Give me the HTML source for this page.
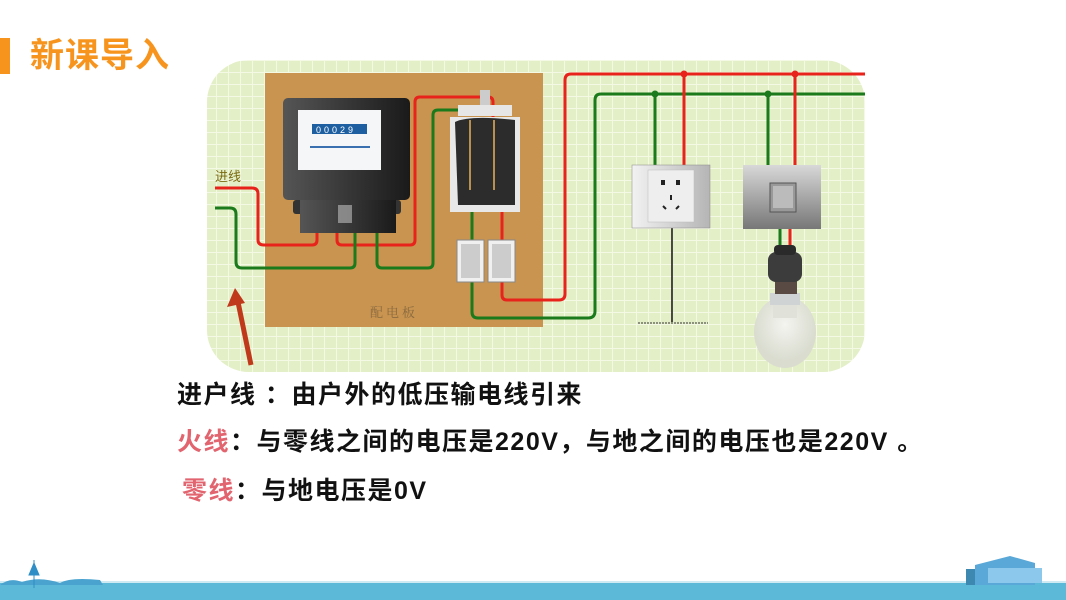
<!DOCTYPE html>
<html><head><meta charset="utf-8"><style>
body{margin:0;width:1066px;height:600px;overflow:hidden;background:#fff;position:relative;font-family:"Liberation Sans","Noto Sans CJK SC",sans-serif}
.t{position:absolute;font-weight:bold;font-size:25px;letter-spacing:1.5px;color:#111;white-space:pre;line-height:30px}
.r{color:#e2646f}
</style></head><body>
<div style="position:absolute;left:0;top:38px;width:10px;height:36px;background:#f7941d"></div>
<div style="position:absolute;left:30px;top:34px;font-size:34px;font-weight:bold;color:#f7941d;line-height:44px;letter-spacing:1px">新课导入</div>
<svg width="1066" height="600" style="position:absolute;left:0;top:0">
<defs>
<pattern id="g" width="12" height="12" patternUnits="userSpaceOnUse"><rect width="12" height="12" fill="#e3efc6"/><path d="M0 0H12M0 0V12" stroke="#f4f9e6" stroke-width="2"/></pattern>
<linearGradient id="m" x1="0" x2="1"><stop offset="0" stop-color="#555"/><stop offset="1" stop-color="#1a1a1a"/></linearGradient>
<linearGradient id="s" x1="0" x2="1"><stop offset="0" stop-color="#f2f2f2"/><stop offset="1" stop-color="#b5b5b5"/></linearGradient>
<linearGradient id="sw" x1="0" y1="0" x2="0" y2="1"><stop offset="0" stop-color="#d8d8d8"/><stop offset="1" stop-color="#777"/></linearGradient>
<radialGradient id="b" cx="0.5" cy="0.4"><stop offset="0" stop-color="#f4f4f0"/><stop offset="1" stop-color="#d9dccf"/></radialGradient>
</defs>
<rect x="207" y="60" width="658" height="312" rx="42" fill="url(#g)"/>
<rect x="265" y="73" width="278" height="254" fill="#c9944f"/>
<text x="370" y="317" font-size="13" fill="#8a6a40" font-family="Noto Serif CJK SC,serif" letter-spacing="3">配电板</text>
<text x="215" y="181" font-size="13" fill="#7a6a10" font-family="Noto Sans CJK SC,sans-serif">进线</text>
<g fill="none" stroke-width="3" stroke-linejoin="round">
<path d="M215 188H252Q258 188 258 194V240Q258 245 264 245H312Q317 245 317 240V230" stroke="#e8231c"/>
<path d="M337 230V240Q337 245 342 245H410Q415 245 415 240V102Q415 97 420 97H488Q493 97 493 102V117" stroke="#e8231c"/>
<path d="M215 208H230Q236 208 236 214V262Q236 268 242 268H350Q355 268 355 263V230" stroke="#1b7a1b"/>
<path d="M377 230V263Q377 268 382 268H428Q433 268 433 263V115Q433 110 438 110H458" stroke="#1b7a1b"/>
<path d="M472 212V240M472 282V312Q472 318 478 318H588Q595 318 595 311V100Q595 94 601 94H865" stroke="#1b7a1b"/>
<path d="M502 212V240M502 282V295Q502 300 507 300H559Q565 300 565 294V80Q565 74 571 74H865" stroke="#e8231c"/>
<path d="M655 94V165M768 94V165M780 229V245" stroke="#1b7a1b"/>
<path d="M684 74V165M795 74V165M790 229V245" stroke="#e8231c"/>
<path d="M672 228V322" stroke="#111" stroke-width="1.5"/>
<path d="M638 323H708" stroke="#333" stroke-width="1" stroke-dasharray="2 1"/>
</g>
<circle cx="684" cy="74" r="3.5" fill="#e8231c"/><circle cx="795" cy="74" r="3.5" fill="#e8231c"/>
<circle cx="655" cy="94" r="3.5" fill="#1b7a1b"/><circle cx="768" cy="94" r="3.5" fill="#1b7a1b"/>
<rect x="293" y="200" width="108" height="14" rx="3" fill="#333"/>
<rect x="300" y="200" width="96" height="33" fill="url(#m)"/>
<rect x="283" y="98" width="127" height="102" rx="5" fill="url(#m)"/>
<rect x="298" y="110" width="83" height="60" fill="#f4f6f8"/>
<rect x="312" y="124" width="55" height="10" fill="#1d5fa0"/>
<text x="316" y="133" font-size="9" fill="#fff" font-family="Liberation Sans" letter-spacing="3">00029</text>
<rect x="310" y="146" width="60" height="2" fill="#3a6fb0"/>
<rect x="338" y="205" width="14" height="18" fill="#aaa" opacity=".7"/>
<rect x="480" y="90" width="10" height="16" fill="#ccc"/>
<rect x="458" y="105" width="54" height="11" fill="#e6e6e6"/>
<rect x="450" y="117" width="70" height="95" fill="#e8e8e8"/>
<path d="M455 122Q470 115 515 120V205H458Z" fill="#2c2c2c"/>
<path d="M470 120V190M494 120V190" stroke="#b89050" stroke-width="2"/>
<rect x="457" y="240" width="27" height="42" fill="#f0f0f0" stroke="#888"/><rect x="461" y="244" width="19" height="34" fill="#ccc"/>
<rect x="488" y="240" width="27" height="42" fill="#f0f0f0" stroke="#888"/><rect x="492" y="244" width="19" height="34" fill="#ccc"/>
<rect x="632" y="165" width="78" height="63" fill="url(#s)" stroke="#888" stroke-width=".5"/>
<rect x="648" y="170" width="46" height="52" fill="#eee" stroke="#bbb" stroke-width=".5"/>
<rect x="661" y="180" width="4" height="5" fill="#222"/><rect x="676" y="180" width="4" height="5" fill="#222"/>
<rect x="670" y="195" width="2" height="5" fill="#222"/>
<path d="M663 206l3 3M679 206l-3 3" stroke="#222" stroke-width="2"/>
<rect x="743" y="165" width="78" height="64" fill="url(#sw)"/>
<rect x="770" y="183" width="26" height="29" fill="#999" stroke="#555"/>
<rect x="773" y="186" width="20" height="22" fill="#bbb"/>
<ellipse cx="785" cy="332" rx="31" ry="36" fill="url(#b)"/>
<path d="M773 302Q785 290 797 302V318H773Z" fill="#e0e2da"/>
<rect x="770" y="293" width="30" height="12" fill="#cfd3d3"/>
<rect x="775" y="280" width="22" height="14" fill="#5a4a44"/>
<rect x="768" y="252" width="34" height="30" rx="8" fill="#3c3c3c"/>
<rect x="774" y="245" width="22" height="10" rx="4" fill="#2a2a2a"/>
<path d="M251 365L238 302" stroke="#c0391b" stroke-width="5"/>
<path d="M227 307L235 288L245 303Z" fill="#c0391b"/>
<rect x="0" y="583" width="1066" height="17" fill="#5cb9d8"/>
<rect x="0" y="581" width="1066" height="2" fill="#cfeaf3"/>
<path d="M0 585Q10 577 22 582Q40 576 60 583Q70 577 100 580L103 585Z" fill="#4aa3cf"/>
<path d="M34 588L34 560M29 575L34 563L39 575Z" stroke="#2f8ec5" fill="#2f8ec5"/>
<rect x="966" y="569" width="20" height="16" fill="#3d88b0"/>
<path d="M975 565L1010 556L1035 563V585H975Z" fill="#5aa8d8"/>
<rect x="988" y="568" width="54" height="15" fill="#8cc7ec"/>
</svg>
<div class="t" style="left:177px;top:380px">进户线 ：由户外的低压输电线引来</div>
<div class="t" style="left:177px;top:427px"><span class="r">火线</span>：与零线之间的电压是220V，与地之间的电压也是220V 。</div>
<div class="t" style="left:182px;top:476px"><span class="r">零线</span>：与地电压是0V</div>
</body></html>
